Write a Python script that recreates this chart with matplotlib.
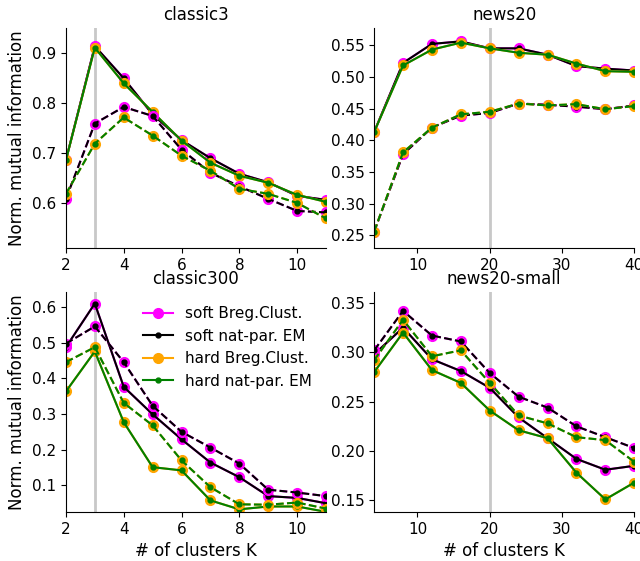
import matplotlib
matplotlib.use("Agg")
import matplotlib.pyplot as plt

# x values (number of clusters)
K_SMALL = [2, 3, 4, 5, 6, 7, 8, 9, 10, 11]
K_NEWS = [4, 8, 12, 16, 20, 24, 28, 32, 36, 40]

# classic3 (solid = first setting, dashed = second setting)
classic3_soft = [0.686, 0.913, 0.849, 0.777, 0.726, 0.690, 0.659, 0.642, 0.615, 0.607]
classic3_hard = [0.686, 0.910, 0.839, 0.782, 0.725, 0.681, 0.655, 0.641, 0.617, 0.603]
classic3_soft_d = [0.609, 0.759, 0.792, 0.774, 0.707, 0.661, 0.634, 0.609, 0.585, 0.582]
classic3_hard_d = [0.619, 0.719, 0.771, 0.735, 0.695, 0.665, 0.629, 0.619, 0.601, 0.570]

# news20
news20_soft = [0.413, 0.522, 0.552, 0.556, 0.545, 0.545, 0.535, 0.517, 0.513, 0.510]
news20_hard = [0.413, 0.518, 0.543, 0.554, 0.545, 0.538, 0.535, 0.521, 0.509, 0.508]
news20_soft_d = [0.256, 0.378, 0.420, 0.439, 0.443, 0.458, 0.456, 0.453, 0.449, 0.455]
news20_hard_d = [0.256, 0.381, 0.420, 0.441, 0.445, 0.458, 0.455, 0.457, 0.449, 0.454]

# classic300
classic300_soft = [0.487, 0.609, 0.376, 0.299, 0.229, 0.164, 0.123, 0.070, 0.065, 0.050]
classic300_hard = [0.363, 0.475, 0.277, 0.151, 0.142, 0.058, 0.033, 0.041, 0.041, 0.026]
classic300_soft_d = [0.497, 0.545, 0.445, 0.323, 0.250, 0.206, 0.161, 0.088, 0.080, 0.070]
classic300_hard_d = [0.445, 0.487, 0.331, 0.268, 0.170, 0.095, 0.047, 0.046, 0.052, 0.035]

# news20-small
small_soft = [0.298, 0.325, 0.293, 0.281, 0.264, 0.234, 0.213, 0.192, 0.181, 0.185]
small_hard = [0.280, 0.320, 0.282, 0.269, 0.241, 0.221, 0.213, 0.178, 0.151, 0.168]
small_soft_d = [0.302, 0.342, 0.317, 0.311, 0.279, 0.255, 0.244, 0.225, 0.214, 0.203]
small_hard_d = [0.292, 0.333, 0.296, 0.302, 0.269, 0.236, 0.228, 0.214, 0.211, 0.189]

TRUE_K = {"classic3": 3, "news20": 20, "classic300": 3, "news20-small": 20}


def draw_panel(ax, name, ks, soft, hard, soft_d, hard_d, xlim, ylim, xticks, yticks):
    ax.axvline(TRUE_K[name], color="#c8c8c8", lw=2, zorder=0)
    for s, h, ls in [(soft, hard, "-"), (soft_d, hard_d, "--")]:
        lab = ls == "-"
        ax.plot(ks, s, ls, color="magenta", marker="o", ms=7, lw=1.5,
                label="soft Breg.Clust." if lab else None)
        ax.plot(ks, s, ls, color="black", marker="o", ms=3.5, lw=1.5,
                label="soft nat-par. EM" if lab else None)
        ax.plot(ks, h, ls, color="orange", marker="o", ms=7, lw=1.5,
                label="hard Breg.Clust." if lab else None)
        ax.plot(ks, h, ls, color="green", marker="o", ms=3.5, lw=1.5,
                label="hard nat-par. EM" if lab else None)
    ax.set_xlim(*xlim)
    ax.set_ylim(*ylim)
    ax.set_xticks(xticks)
    ax.set_yticks(yticks)
    ax.set_title(name, fontsize=12)
    ax.tick_params(labelsize=11)
    ax.spines["top"].set_visible(False)
    ax.spines["right"].set_visible(False)


fig, axes = plt.subplots(2, 2, figsize=(6.4, 5.61), dpi=100)
plt.subplots_adjust(left=0.103, right=0.991, top=0.950, bottom=0.087,
                    wspace=0.185, hspace=0.2)

draw_panel(axes[0, 0], "classic3", K_SMALL, classic3_soft, classic3_hard,
           classic3_soft_d, classic3_hard_d, (2, 11), (0.511, 0.949),
           [2, 4, 6, 8, 10], [0.6, 0.7, 0.8, 0.9])
draw_panel(axes[0, 1], "news20", K_NEWS, news20_soft, news20_hard,
           news20_soft_d, news20_hard_d, (4, 40), (0.23, 0.577),
           [10, 20, 30, 40], [0.25, 0.30, 0.35, 0.40, 0.45, 0.50, 0.55])
draw_panel(axes[1, 0], "classic300", K_SMALL, classic300_soft, classic300_hard,
           classic300_soft_d, classic300_hard_d, (2, 11), (0.025, 0.641),
           [2, 4, 6, 8, 10], [0.1, 0.2, 0.3, 0.4, 0.5, 0.6])
draw_panel(axes[1, 1], "news20-small", K_NEWS, small_soft, small_hard,
           small_soft_d, small_hard_d, (4, 40), (0.138, 0.361),
           [10, 20, 30, 40], [0.15, 0.20, 0.25, 0.30, 0.35])

axes[0, 1].yaxis.set_major_formatter(matplotlib.ticker.FormatStrFormatter("%.2f"))
axes[1, 1].yaxis.set_major_formatter(matplotlib.ticker.FormatStrFormatter("%.2f"))

for ax in axes[:, 0]:
    ax.set_ylabel("Norm. mutual information", fontsize=12)
for ax in axes[1, :]:
    ax.set_xlabel("# of clusters K", fontsize=12)

axes[1, 0].legend(loc="upper right", frameon=False, fontsize=11)

plt.savefig("out.png")
